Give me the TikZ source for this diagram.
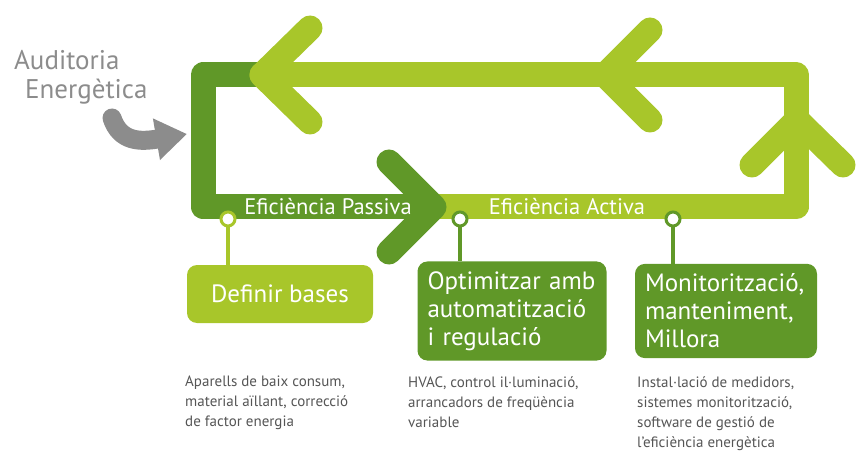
\documentclass[tikz,border=0pt]{standalone}
\usepackage{fontspec}
\setmainfont{PT Sans}
\usetikzlibrary{arrows.meta}

\definecolor{darkleaf}{RGB}{96,152,40}
\definecolor{lightleaf}{RGB}{168,198,42}
\definecolor{arrowgray}{RGB}{140,140,140}
\definecolor{notegray}{RGB}{85,85,85}

\begin{document}
\begin{tikzpicture}[x=1pt, y=-1pt,
    band/.style={line width=25pt, line join=round, line cap=round},
    stage/.style={rounded corners=10pt, inner sep=10pt, text=white, align=left, font=\fontsize{25}{28}\selectfont},
    marker/.style={circle, draw, fill=white, line width=3pt, minimum size=14pt, inner sep=0pt},
    stem/.style={line width=4pt},
    note/.style={anchor=north west, align=left, inner sep=0pt, text=notegray, font=\fontsize{15}{20}\selectfont},
    barlabel/.style={text=white, font=\fontsize{22.5}{22.5}\selectfont, inner sep=0pt}]
  \useasboundingbox (0,0) rectangle (861,454);

  % Loop
  \draw[band, darkleaf] (262,75) -- (203,75) -- (203,207) -- (434,207);
  \draw[band, lightleaf] (434,207) -- (796,207) -- (796,75) -- (262,75);
  \draw[band, darkleaf] (389,162) -- (434,207) -- (389,252);
  \draw[band, lightleaf] (310,28) -- (262,75) -- (310,122);
  \draw[band, lightleaf] (650,30) -- (605,75) -- (650,120);
  \draw[band, lightleaf] (752,165) -- (797,120) -- (843,165);

  \node[barlabel] (passiva) at (328,207) {Eficiència Passiva};
  \node[barlabel] (activa) at (567,207) {Eficiència Activa};

  % Audit
  \node[anchor=north west, inner sep=0pt, align=left, text=arrowgray, font=\fontsize{27}{29}\selectfont] (audit) at (14,50) {Auditoria\\\hspace*{11pt}Energètica};
  \coordinate (auditstart) at (112,118);
  \coordinate (auditend) at (187,134);
  \draw[arrowgray, line width=19pt, line cap=round, -{Triangle[length=31pt, width=40pt]}] (auditstart) .. controls (120,142) and (140,142) .. (auditend);

  % Stages
  \node[stage, fill=lightleaf, minimum width=186pt, minimum height=58pt, align=center] (bases) at (280,294) {Definir bases};
  \node[stage, fill=darkleaf, text width=169pt, minimum height=88pt] (optim) at (512,311) {Optimitzar amb\\automatització\\i regulació};
  \node[stage, fill=darkleaf, text width=162pt, minimum height=88pt] (monit) at (726,311) {Monitorització,\\manteniment,\\Millora};

  \node[marker, draw=lightleaf] (m1) at (228,219) {};
  \node[marker, draw=darkleaf] (m2) at (460,219) {};
  \node[marker, draw=darkleaf] (m3) at (673,219) {};

  \draw[stem, lightleaf] (m1) -- (m1 |- bases.north);
  \draw[stem, darkleaf] (m2) -- (m2 |- optim.north);
  \draw[stem, darkleaf] (m3) -- (m3 |- monit.north);

  % Notes
  \node[note] (note1) at (185,376) {Aparells de baix consum,\\material aïllant, correcció\\de factor energia};
  \node[note] (note2) at (408,376) {HVAC, control il·luminació,\\arrancadors de freqüència\\variable};
  \node[note] (note3) at (637,376) {Instal·lació de medidors,\\sistemes monitorització,\\software de gestió de\\l'eficiència energètica};
\end{tikzpicture}
\end{document}
